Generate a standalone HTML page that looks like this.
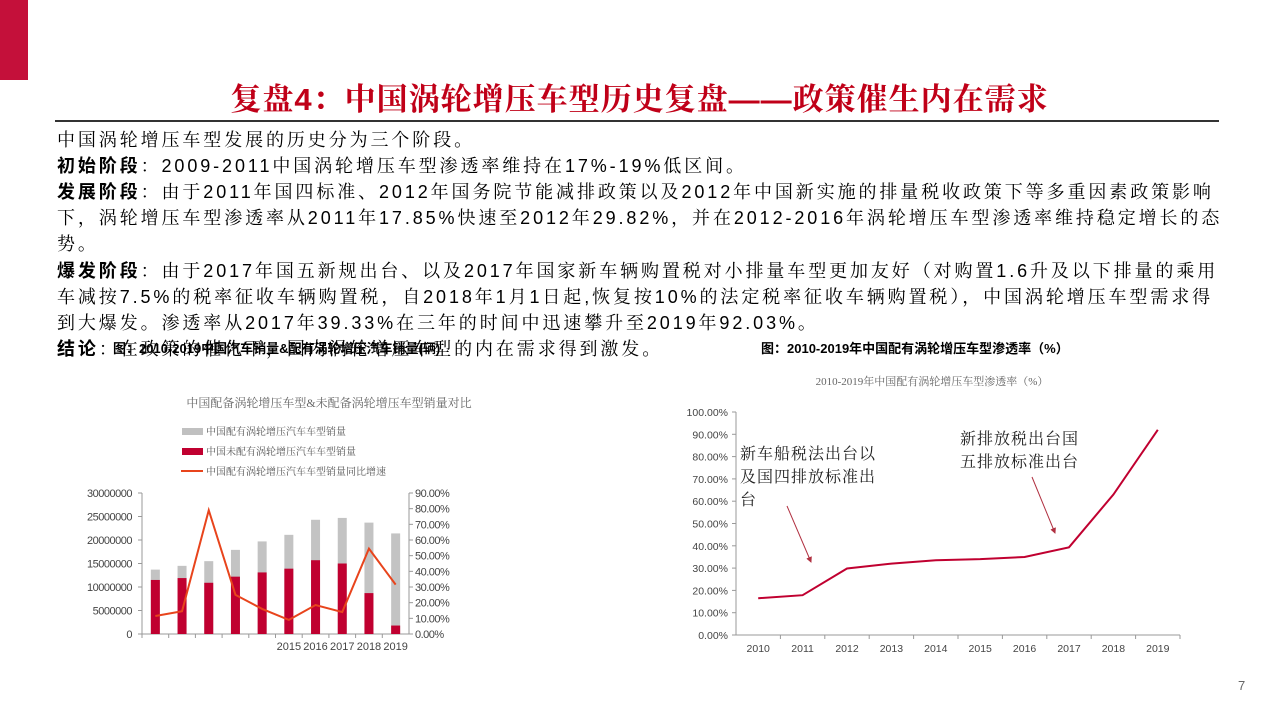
<!DOCTYPE html>
<html><head><meta charset="utf-8">
<style>
body{margin:0;width:1279px;height:719px;background:#fff;position:relative;overflow:hidden;font-family:"Liberation Sans","Noto Serif CJK SC",serif;}
.abs{position:absolute;white-space:nowrap}
.t{font-size:18px;color:#000;left:57px;letter-spacing:2.9px}
.b{font-family:"Liberation Sans","Noto Sans CJK SC",sans-serif;font-weight:bold}
</style></head><body>
<div class="abs" style="left:0;top:0;width:28px;height:80px;background:#c4103a"></div>
<div class="abs" style="left:0;width:1279px;text-align:center;top:74px;font-size:31px;color:#c00018;font-family:'Liberation Sans','Noto Serif CJK SC',serif;font-weight:bold;letter-spacing:1px">复盘4：中国涡轮增压车型历史复盘——政策催生内在需求</div>
<div class="abs" style="left:55px;top:120px;width:1164px;height:2px;background:#333"></div>
<div class="abs t" style="top:126px">中国涡轮增压车型发展的历史分为三个阶段。</div>
<div class="abs t" style="top:152px"><span class="b">初始阶段</span>：2009-2011中国涡轮增压车型渗透率维持在17%-19%低区间。</div>
<div class="abs t" style="top:178px"><span class="b">发展阶段</span>：由于2011年国四标准、2012年国务院节能减排政策以及2012年中国新实施的排量税收政策下等多重因素政策影响</div>
<div class="abs t" style="top:204px">下，涡轮增压车型渗透率从2011年17.85%快速至2012年29.82%，并在2012-2016年涡轮增压车型渗透率维持稳定增长的态</div>
<div class="abs t" style="top:230px">势。</div>
<div class="abs t" style="top:257px"><span class="b">爆发阶段</span>：由于2017年国五新规出台、以及2017年国家新车辆购置税对小排量车型更加友好（对购置1.6升及以下排量的乘用</div>
<div class="abs t" style="top:283px">车减按7.5%的税率征收车辆购置税，自2018年1月1日起,恢复按10%的法定税率征收车辆购置税），中国涡轮增压车型需求得</div>
<div class="abs t" style="top:309px">到大爆发。渗透率从2017年39.33%在三年的时间中迅速攀升至2019年92.03%。</div>
<div class="abs t" style="top:335px"><span class="b">结论</span>：在政策的催化下，国内涡轮增压车型的内在需求得到激发。</div>
<div class="abs b" style="left:113px;top:338px;font-size:13px;background:transparent">图：2010-2019中国汽车销量&amp;配有涡轮增压汽车销量(辆)</div>
<div class="abs b" style="left:761px;top:338px;font-size:13px">图：2010-2019年中国配有涡轮增压车型渗透率（%）</div>
<div class="abs" style="left:1238px;top:678px;font-size:13px;color:#666">7</div>

<svg class="abs" style="left:0;top:0" width="1279" height="719" id="charts"></svg>
<script>
const years=['2010','2011','2012','2013','2014','2015','2016','2017','2018','2019'];
const totalSales=[13.7,14.5,15.5,17.9,19.7,21.1,24.3,24.7,23.7,21.4];
const nonTurbo=[11.5,11.9,10.9,12.2,13.1,13.9,15.7,15.0,8.7,1.8];
const turboGrowth=[11.5,14.5,79,25,16,9,18.5,14,54.5,31.5];
const leftTicks=[0,5000000,10000000,15000000,20000000,25000000,30000000];
const rightTicks=[0,10,20,30,40,50,60,70,80,90];
const penetration=[16.5,17.85,29.82,32,33.5,34,35,39.33,63,92.03];
const penTicks=[0,10,20,30,40,50,60,70,80,90,100];

const svg=document.getElementById('charts');
const NS='http://www.w3.org/2000/svg';
function mk(tag,attrs,txt){const e=document.createElementNS(NS,tag);for(const k in attrs)e.setAttribute(k,attrs[k]);if(txt!==undefined)e.textContent=txt;svg.appendChild(e);return e;}
const F='Liberation Sans, Noto Sans CJK SC, sans-serif';
const FS='Liberation Serif, Noto Serif CJK SC, serif';

const lx0=142,lx1=409,ly0=634,ly1=493;
const bw=(lx1-lx0)/10;
const lxC=i=>lx0+bw*(i+0.5);
const ly=v=>ly0-(v/30)*(ly0-ly1);
const ry=v=>ly0-(v/90)*(ly0-ly1);
let e;
e=mk('text',{x:329,y:407,'font-size':12,fill:'#666','text-anchor':'middle','font-family':FS},'中国配备涡轮增压车型&未配备涡轮增压车型销量对比');

const leg=[['rect','#c0c0c0','中国配有涡轮增压汽车车型销量'],['rect','#c00030','中国未配有涡轮增压汽车车型销量'],['line','#e8441c','中国配有涡轮增压汽车车型销量同比增速']];
leg.forEach((l,i)=>{const y=431+i*20;
 if(l[0]=='rect'){e=mk('rect',{x:182,y:y-3,width:21,height:7,fill:l[1]});}
 else{e=mk('line',{x1:181,x2:203,y1:y,y2:y,stroke:l[1],'stroke-width':2});}
 
 e=mk('text',{x:206,y:y+4,'font-size':10,fill:'#555','font-family':FS},l[2]);
 
});
e=mk('line',{x1:lx0,x2:lx0,y1:ly1,y2:ly0,stroke:'#999'});
e=mk('line',{x1:lx1,x2:lx1,y1:ly1,y2:ly0,stroke:'#999'});
e=mk('line',{x1:lx0,x2:lx1,y1:ly0,y2:ly0,stroke:'#999'});
leftTicks.forEach(t=>{const y=ly(t/1e6);
 e=mk('text',{x:lx0-10,y:y+4,'font-size':11,fill:'#444','text-anchor':'end','font-family':F,'letter-spacing':-0.5},String(t));
 
 mk('line',{x1:lx0-4,x2:lx0,y1:y,y2:y,stroke:'#999'});});
rightTicks.forEach(t=>{const y=ry(t);
 e=mk('text',{x:lx1+6,y:y+4,'font-size':11,fill:'#444','font-family':F,'letter-spacing':-0.5},t.toFixed(2)+'%');
 
 mk('line',{x1:lx1,x2:lx1+4,y1:y,y2:y,stroke:'#999'});});
years.forEach((yr,i)=>{
 mk('line',{x1:lx0+bw*i,x2:lx0+bw*i,y1:ly0,y2:ly0+4,stroke:'#999'});
 e=mk('rect',{x:lxC(i)-4.5,y:ly(totalSales[i]),width:9,height:ly0-ly(totalSales[i]),fill:'#c3c3c3'});
 
 e=mk('rect',{x:lxC(i)-4.5,y:ly(nonTurbo[i]),width:9,height:ly0-ly(nonTurbo[i]),fill:'#c00030'});
 
 if(i>=5){e=mk('text',{x:lxC(i),y:650,'font-size':11,fill:'#444','text-anchor':'middle','font-family':F},yr);
 }
});
e=mk('polyline',{points:turboGrowth.map((v,i)=>lxC(i)+','+ry(v)).join(' '),fill:'none',stroke:'#e8441c','stroke-width':2});


const px0=736,px1=1180,py0=635,py1=412;
const pw=(px1-px0)/10;
const pxC=i=>px0+pw*(i+0.5);
const py=v=>py0-(v/100)*(py0-py1);
e=mk('text',{x:932,y:385,'font-size':11,fill:'#666','text-anchor':'middle','font-family':FS},'2010-2019年中国配有涡轮增压车型渗透率（%）');

e=mk('line',{x1:px0,x2:px0,y1:py1,y2:py0,stroke:'#999'});
e=mk('line',{x1:px0,x2:px1,y1:py0,y2:py0,stroke:'#999'});
penTicks.forEach(t=>{const y=py(t);
 e=mk('text',{x:px0-8,y:y+4,'font-size':10.5,fill:'#444','text-anchor':'end','font-family':F},t.toFixed(2)+'%');
 
 mk('line',{x1:px0-4,x2:px0,y1:y,y2:y,stroke:'#999'});});
years.forEach((yr,i)=>{
 mk('line',{x1:px0+pw*(i+1),x2:px0+pw*(i+1),y1:py0,y2:py0+4,stroke:'#999'});
 e=mk('text',{x:pxC(i),y:652,'font-size':10.5,fill:'#444','text-anchor':'middle','font-family':F},yr);
 });
e=mk('polyline',{points:penetration.map((v,i)=>pxC(i)+','+py(v)).join(' '),fill:'none',stroke:'#c00030','stroke-width':2});

[['新车船税法出台以',740,459],['及国四排放标准出',740,482],['台',740,505],['新排放税出台国',960,444],['五排放标准出台',960,467]].forEach(a=>{
 e=mk('text',{x:a[1],y:a[2],'font-size':16,fill:'#222','font-family':FS,'letter-spacing':1},a[0]);
 });
mk('defs',{}).innerHTML='<marker id="ah" markerWidth="6" markerHeight="6" refX="5" refY="3" orient="auto"><path d="M0,0 L6,3 L0,6 z" fill="#b03040"/></marker>';
e=mk('line',{x1:787,y1:506,x2:811,y2:562,stroke:'#b03040','stroke-width':1,'marker-end':'url(#ah)'});

e=mk('line',{x1:1032,y1:477,x2:1055,y2:533,stroke:'#b03040','stroke-width':1,'marker-end':'url(#ah)'});

</script>
</body></html>
